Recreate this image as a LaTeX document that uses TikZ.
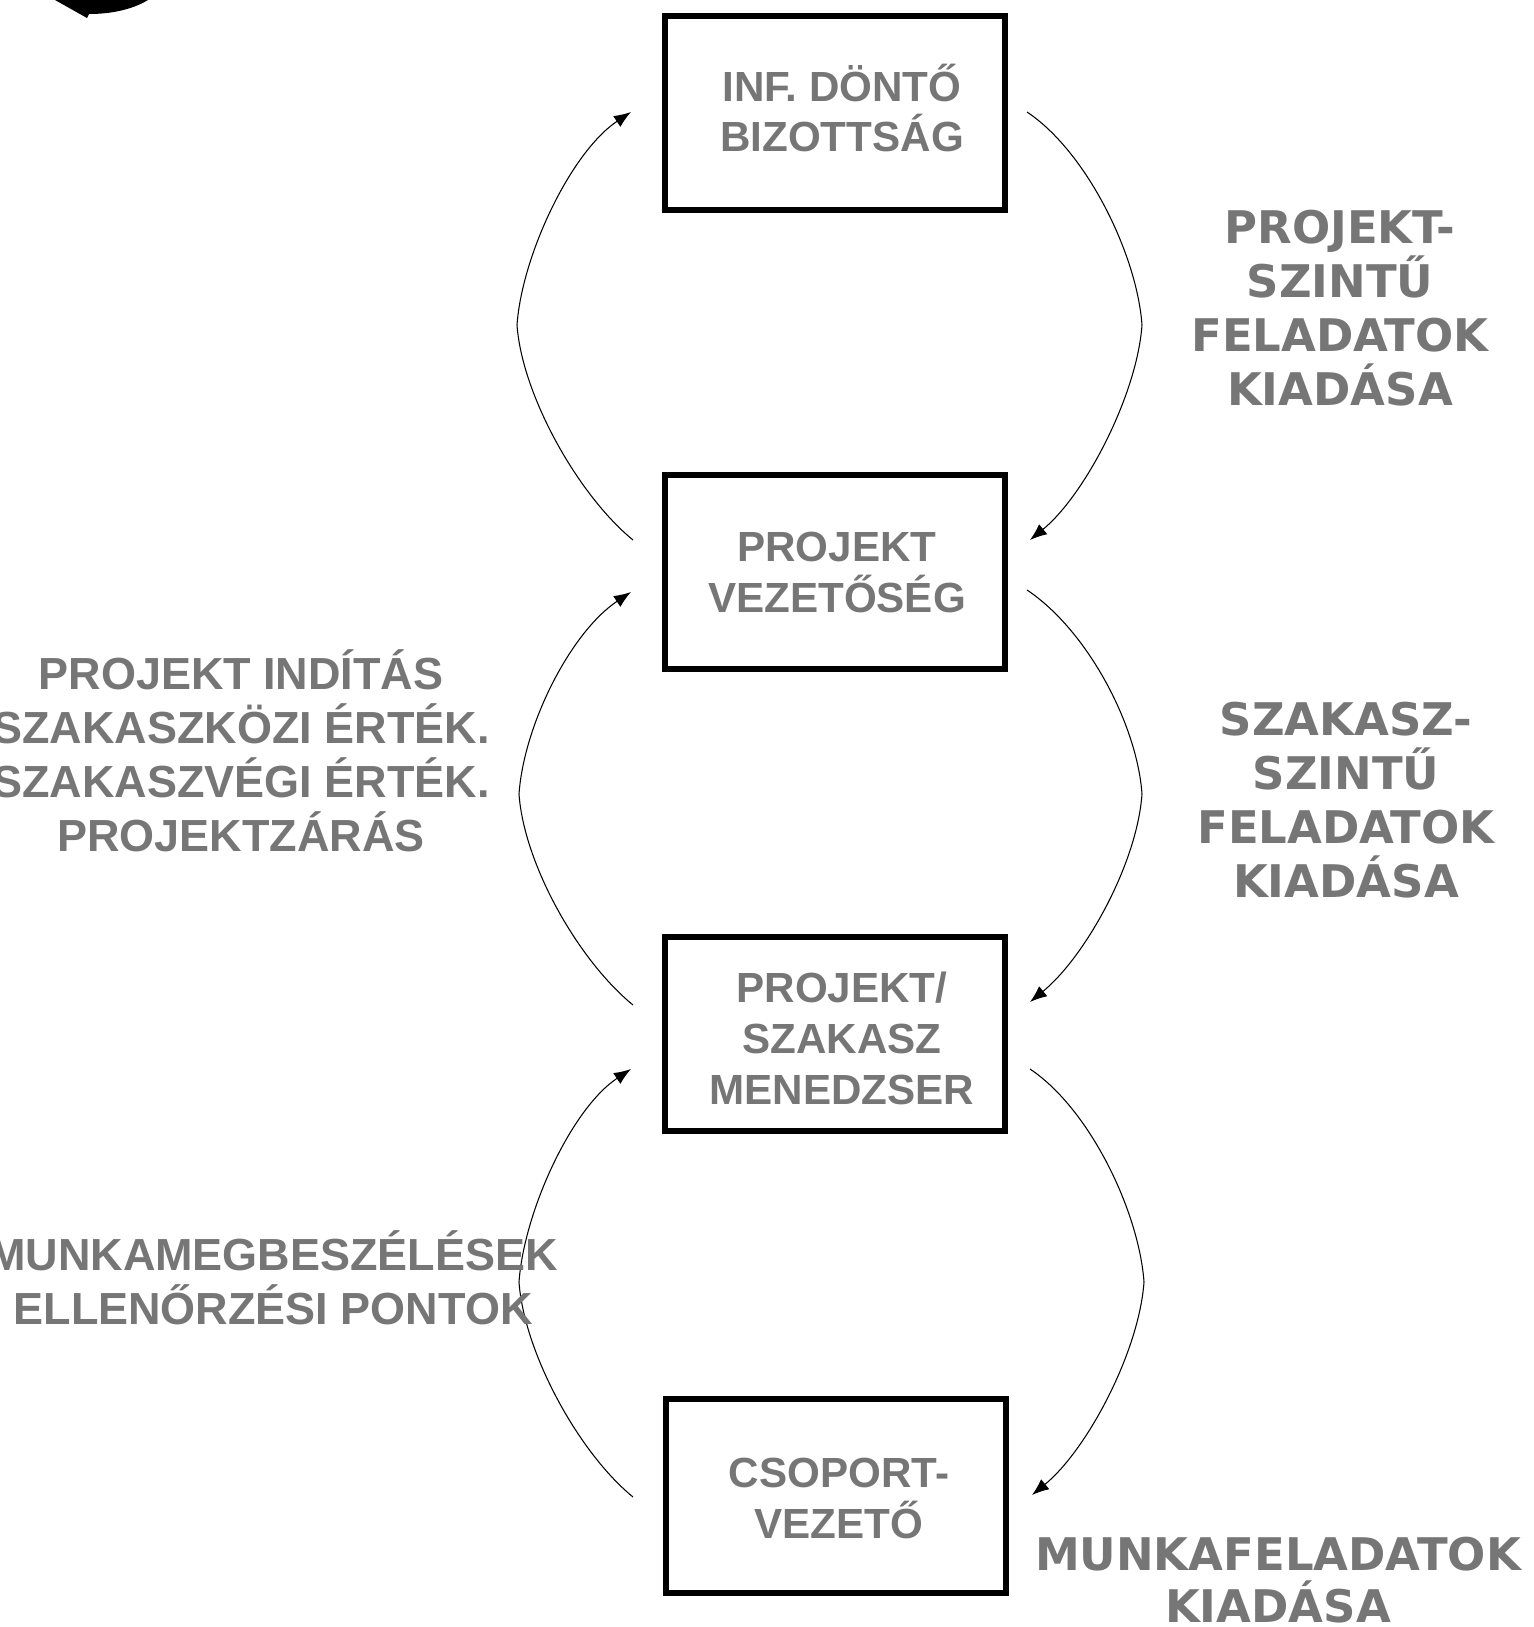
\documentclass[tikz,border=0pt]{standalone}
\usepackage{fontspec}
\setmainfont{Liberation Sans}
\newfontfamily\dejavu{DejaVu Sans}
\usepackage{xcolor}
\usetikzlibrary{arrows.meta}
\definecolor{labelgray}{RGB}{118,118,118}

\begin{document}
\begin{tikzpicture}[x=0.02cm,y=-0.02cm,
  orgbox/.style={draw,line width=3.4pt,minimum width=6.82cm,minimum height=3.88cm},
  boxtext/.style={align=center,text=labelgray,font=\bfseries\fontsize{24}{29}\selectfont},
  sidetext/.style={align=center,text=labelgray,font=\bfseries\fontsize{25.6}{30.7}\selectfont},
  tasktext/.style={align=center,text=labelgray,font=\dejavu\bfseries\fontsize{25.6}{30.7}\selectfont},
  flow/.style={line width=0.6pt,-{Latex[length=0.34cm,width=0.26cm]}}]
\useasboundingbox (0,0) rectangle (1534,1627);

% corner of a cut-off arrow
\fill (55,0) -- (87,18) -- (89,14) .. controls (115,14) and (135,8) .. (148,0) -- cycle;

% the four levels
\node[orgbox] (b1) at (835,113) {};
\node[orgbox] (b2) at (835,572) {};
\node[orgbox] (b3) at (835,1034) {};
\node[orgbox] (b4) at (836,1496) {};
\node[boxtext] (b1t) at (842,108) {INF. DÖNTŐ\\BIZOTTSÁG};
\node[boxtext] (b2t) at (837,572) {PROJEKT\\VEZETŐSÉG};
\node[boxtext] (b3t) at (842,1038) {PROJEKT/\\SZAKASZ\\MENEDZSER};
\node[boxtext] (b4t) at (839,1498) {CSOPORT-\\VEZETŐ};

% upward loops
\coordinate (l1s) at (633,540);  \coordinate (l1m) at (517,325);  \coordinate (l1e) at (631,112);
\coordinate (l2s) at (633,1005); \coordinate (l2m) at (519,794);  \coordinate (l2e) at (631,592);
\coordinate (l3s) at (633,1497); \coordinate (l3m) at (519,1282); \coordinate (l3e) at (631,1069);
\draw[flow] (l1s) .. controls +(-55,-45) and +(5,70) .. (l1m) .. controls +(5,-70) and +(-60,40) .. (l1e);
\draw[flow] (l2s) .. controls +(-55,-45) and +(5,70) .. (l2m) .. controls +(5,-70) and +(-60,40) .. (l2e);
\draw[flow] (l3s) .. controls +(-55,-45) and +(5,70) .. (l3m) .. controls +(5,-70) and +(-60,40) .. (l3e);

% downward loops
\coordinate (r1s) at (1027,112);  \coordinate (r1m) at (1142,325);  \coordinate (r1e) at (1030,540);
\coordinate (r2s) at (1027,590);  \coordinate (r2m) at (1142,794);  \coordinate (r2e) at (1030,1002);
\coordinate (r3s) at (1030,1069); \coordinate (r3m) at (1144,1282); \coordinate (r3e) at (1032,1495);
\draw[flow] (r1s) .. controls +(60,40) and +(-5,-70) .. (r1m) .. controls +(-5,70) and +(55,-45) .. (r1e);
\draw[flow] (r2s) .. controls +(60,40) and +(-5,-70) .. (r2m) .. controls +(-5,70) and +(55,-45) .. (r2e);
\draw[flow] (r3s) .. controls +(60,40) and +(-5,-70) .. (r3m) .. controls +(-5,70) and +(55,-45) .. (r3e);

% labels
\node[sidetext] (t1) at (241,751) {PROJEKT INDÍTÁS\\SZAKASZKÖZI ÉRTÉK.\\SZAKASZVÉGI ÉRTÉK.\\PROJEKTZÁRÁS};
\node[sidetext] (t2) at (273,1278) {MUNKAMEGBESZÉLÉSEK\\ELLENŐRZÉSI PONTOK};
\node[tasktext] (t3) at (1340,308) {PROJEKT-\\SZINTŰ\\FELADATOK\\KIADÁSA};
\node[tasktext] (t4) at (1346,800) {SZAKASZ-\\SZINTŰ\\FELADATOK\\KIADÁSA};
\node[tasktext,font=\dejavu\bfseries\fontsize{25.6}{29.6}\selectfont] (t5) at (1278,1580) {MUNKAFELADATOK\\KIADÁSA};
\end{tikzpicture}
\end{document}
